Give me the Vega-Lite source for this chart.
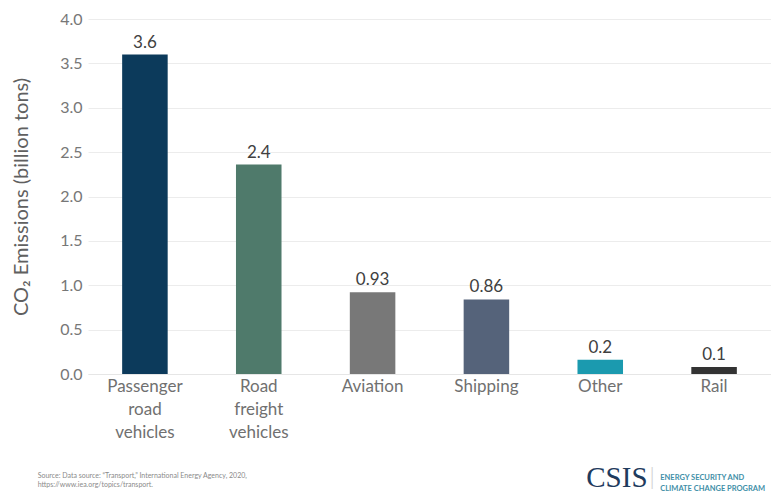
{
  "$schema": "https://vega.github.io/schema/vega-lite/v6.json",
  "width": 683,
  "height": 355,
  "autosize": {"type": "none"},
  "padding": {"left": 88, "top": 19, "right": 0, "bottom": 121},
  "background": "white",
  "config": {
    "font": "Lato",
    "view": {"stroke": null}
  },
  "title": {
    "text": ["Source: Data source: \u201cTransport,\u201d International Energy Agency, 2020,", "https://www.iea.org/topics/transport."],
    "orient": "bottom",
    "anchor": "start",
    "fontSize": 7,
    "fontWeight": "normal",
    "color": "#8a8a8a",
    "offset": -21,
    "dx": 26,
    "lineHeight": 9
  },
  "data": {
    "values": [
      {"mode": "Passenger road vehicles", "value": 3.6, "label": "3.6"},
      {"mode": "Road freight vehicles", "value": 2.36, "label": "2.4"},
      {"mode": "Aviation", "value": 0.92, "label": "0.93"},
      {"mode": "Shipping", "value": 0.84, "label": "0.86"},
      {"mode": "Other", "value": 0.16, "label": "0.2"},
      {"mode": "Rail", "value": 0.08, "label": "0.1"}
    ]
  },
  "layer": [
    {
      "mark": {"type": "bar"},
      "encoding": {
        "x": {
          "field": "mode",
          "type": "nominal",
          "sort": null,
          "scale": {"paddingInner": 0.6, "paddingOuter": 0.3},
          "axis": {
            "title": null,
            "labelAngle": 0,
            "labelExpr": "split(datum.label, ' ')",
            "labelFontSize": 17,
            "labelLineHeight": 23,
            "labelColor": "#707070",
            "labelPadding": 4,
            "ticks": false,
            "domainColor": "#e6e6e6",
            "domainWidth": 1
          }
        },
        "y": {
          "field": "value",
          "type": "quantitative",
          "scale": {"domain": [0, 4]},
          "axis": {
            "title": "CO\u2082 Emissions (billion tons)",
            "titleFontSize": 20,
            "titleFontWeight": "normal",
            "titleColor": "#606060",
            "titlePadding": 28,
            "values": [0, 0.5, 1, 1.5, 2, 2.5, 3, 3.5, 4],
            "format": ".1f",
            "labelFontSize": 16,
            "labelColor": "#777777",
            "labelPadding": 6,
            "ticks": false,
            "domain": false,
            "gridColor": "#ececec"
          }
        },
        "color": {
          "field": "mode",
          "type": "nominal",
          "legend": null,
          "scale": {
            "domain": ["Passenger road vehicles", "Road freight vehicles", "Aviation", "Shipping", "Other", "Rail"],
            "range": ["#0c3a5b", "#4f7a6b", "#787878", "#55637a", "#1b9aaf", "#333333"]
          }
        }
      }
    },
    {
      "mark": {"type": "text", "baseline": "bottom", "dy": -3, "fontSize": 17, "color": "#404040"},
      "encoding": {
        "x": {"field": "mode", "type": "nominal", "sort": null},
        "y": {"field": "value", "type": "quantitative"},
        "text": {"field": "label"}
      }
    },
    {
      "data": {"values": [{"brand": "CSIS", "sep": "|", "program": ["ENERGY SECURITY AND", "CLIMATE CHANGE PROGRAM"]}]},
      "layer": [
        {
          "mark": {"type": "text", "align": "left", "baseline": "middle", "dx": -14, "font": "Liberation Serif", "fontSize": 29, "color": "#1f3b5e"},
          "encoding": {
            "x": {"datum": "Other", "type": "nominal"},
            "y": {"datum": -1.17, "type": "quantitative"},
            "text": {"field": "brand", "type": "nominal"}
          }
        },
        {
          "mark": {"type": "text", "align": "left", "baseline": "middle", "dx": 49, "fontSize": 24, "fontWeight": 300, "color": "#cfcfcf"},
          "encoding": {
            "x": {"datum": "Other", "type": "nominal"},
            "y": {"datum": -1.17, "type": "quantitative"},
            "text": {"field": "sep", "type": "nominal"}
          }
        },
        {
          "mark": {"type": "text", "align": "left", "baseline": "middle", "dx": 60, "fontSize": 7.5, "fontWeight": "bold", "lineHeight": 11, "color": "#3f8fa8"},
          "encoding": {
            "x": {"datum": "Other", "type": "nominal"},
            "y": {"datum": -1.17, "type": "quantitative"},
            "text": {"field": "program"}
          }
        }
      ]
    }
  ]
}
